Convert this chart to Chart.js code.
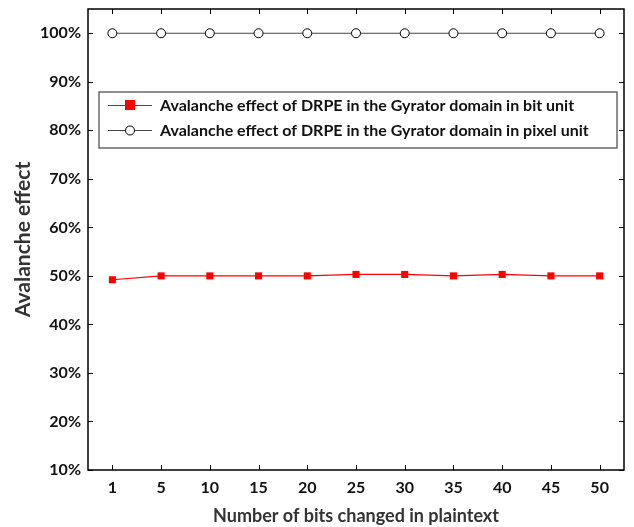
<!DOCTYPE html>
<html><head><meta charset="utf-8">
<script src="https://cdn.jsdelivr.net/npm/chart.js@4/dist/chart.umd.min.js"></script>
<style>html,body{margin:0;padding:0;background:#fff}#wrap{width:634px;height:527px}</style>
</head><body><div id="wrap"><canvas id="c" width="634" height="527"></canvas></div>
<script>
const categories = ['1','5','10','15','20','25','30','35','40','45','50'];
const bitUnit = [49.2, 50.0, 50.0, 50.0, 50.0, 50.3, 50.3, 50.0, 50.3, 50.0, 50.0];
const pixelUnit = [100, 100, 100, 100, 100, 100, 100, 100, 100, 100, 100];
const seriesLabels = ['Avalanche effect of DRPE in the Gyrator domain in bit unit','Avalanche effect of DRPE in the Gyrator domain in pixel unit'];
const yTickValues = [10,20,30,40,50,60,70,80,90,100];
const xTitle = 'Number of bits changed in plaintext';
const yTitle = 'Avalanche effect';

const FONT = 'Lato';

const frame = {
  id:'frame',
  afterDatasetsDraw(chart){
    const {ctx, chartArea:a, scales:{x,y}} = chart;
    ctx.save();
    ctx.strokeStyle='#000'; ctx.lineWidth=1;
    const L=5;
    ctx.beginPath();
    x.ticks.forEach((t,i)=>{const px=Math.round(x.getPixelForTick(i))+0.5;
      ctx.moveTo(px,a.bottom); ctx.lineTo(px,a.bottom-L);
      ctx.moveTo(px,a.top); ctx.lineTo(px,a.top+L);});
    y.ticks.forEach(t=>{const py=Math.round(y.getPixelForValue(t.value))+0.5;
      ctx.moveTo(a.left,py); ctx.lineTo(a.left+L,py);
      ctx.moveTo(a.right,py); ctx.lineTo(a.right-L,py);});
    ctx.stroke();
    ctx.lineWidth=1.5;
    ctx.strokeRect(a.left,a.top,a.right-a.left,a.bottom-a.top);
    // legend
    const bx=99, by=92, bw=518, bh=56;
    ctx.fillStyle='#fff'; ctx.fillRect(bx,by,bw,bh);
    ctx.lineWidth=1.2; ctx.strokeStyle='#444'; ctx.strokeRect(bx,by,bw,bh);
    const rows=[105,130];
    chart.data.datasets.forEach((ds,i)=>{
      const yy=rows[i];
      ctx.strokeStyle=ds.borderColor; ctx.lineWidth=1;
      ctx.beginPath(); ctx.moveTo(108,yy+0.5); ctx.lineTo(152,yy+0.5); ctx.stroke();
      if(i===0){ctx.fillStyle=ds.pointBackgroundColor; ctx.fillRect(125,yy-5,10,10);}
      else{ctx.fillStyle='#fff'; ctx.strokeStyle='#000'; ctx.beginPath(); ctx.arc(130,yy+0.5,4.5,0,Math.PI*2); ctx.fill(); ctx.stroke();}
      ctx.fillStyle='#111'; ctx.font='bold 16px '+FONT; ctx.textBaseline='middle'; ctx.textAlign='left';
      ctx.fillText(ds.label,160,yy+1);
    });
    ctx.restore();
  }
};

new Chart(document.getElementById('c'),{
  type:'line',
  data:{labels:categories,datasets:[
    {label:seriesLabels[0],data:bitUnit,borderColor:'#ff0000',backgroundColor:'#ff0000',borderWidth:1.2,
     pointStyle:'rect',pointRadius:5,pointBackgroundColor:'#ff0000',pointBorderColor:'#ff0000',pointBorderWidth:0},
    {label:seriesLabels[1],data:pixelUnit,borderColor:'#444',backgroundColor:'#fff',borderWidth:1,
     pointStyle:'circle',pointRadius:4.5,pointBackgroundColor:'#fff',pointBorderColor:'#000',pointBorderWidth:1}
  ]},
  options:{
    responsive:false,animation:false,
    layout:{padding:{left:0,right:10,top:9,bottom:0}},
    plugins:{legend:{display:false},tooltip:{enabled:false}},
    scales:{
      x:{offset:true,
        grid:{display:false,drawTicks:false},border:{display:false},
        ticks:{color:'#111',font:{family:FONT,size:16,weight:'bold'},padding:8,maxRotation:0},
        title:{display:true,text:xTitle,color:'#333',font:{family:FONT,size:18,weight:'bold'},padding:{top:5,bottom:0}},
        afterFit(s){s.height=57;s.paddingLeft=0;s.paddingRight=0;}
      },
      y:{min:10,max:105,
        afterBuildTicks(s){s.ticks=yTickValues.map(v=>({value:v}));},
        grid:{display:false,drawTicks:false},border:{display:false},
        ticks:{color:'#111',font:{family:FONT,size:16,weight:'bold'},padding:7,callback:v=>v+'%'},
        title:{display:true,text:yTitle,color:'#333',font:{family:FONT,size:21,weight:'bold'},padding:{top:11,bottom:0}},
        afterFit(s){s.width=88;s.paddingTop=0;s.paddingBottom=0;}
      }
    }
  },
  plugins:[frame]
});
</script></body></html>
